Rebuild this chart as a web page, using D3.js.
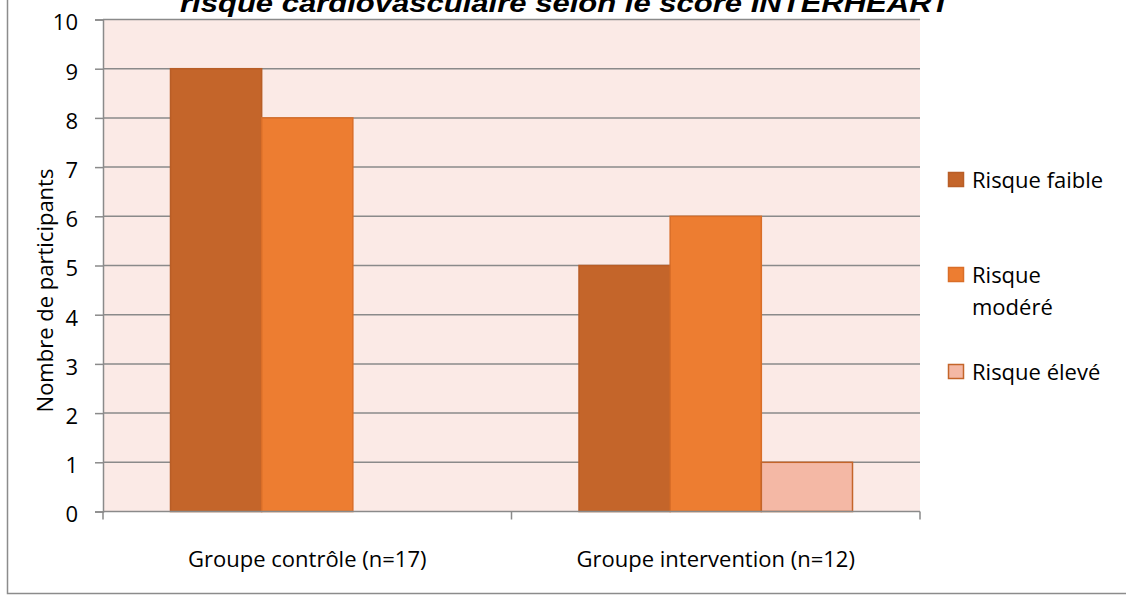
<!DOCTYPE html>
<html><head><meta charset="utf-8">
<script src="https://cdn.jsdelivr.net/npm/d3@7"></script>
<style>body{margin:0;background:#fff}svg{display:block}</style>
</head><body>
<svg id="c" width="1126" height="595"></svg>
<script>
const categories = ["Groupe contrôle (n=17)", "Groupe intervention (n=12)"];
const seriesNames = ["Risque faible", "Risque modéré", "Risque élevé"];
const risqueFaible = [9, 5];
const risqueModere = [8, 6];
const risqueEleve = [0, 1];
const yTicks = [0,1,2,3,4,5,6,7,8,9,10];
const titleText = "risque cardiovasculaire selon le score INTERHEART";
const yTitle = "Nombre de participants";

const seriesValues = [risqueFaible, risqueModere, risqueEleve];
const fills = ["#C4652A", "#ED7D31", "#F4B8A5"];
const strokes = ["#B85E27", "#D96E28", "#C4652A"];
const font = "'Open Sans', 'Noto Sans', sans-serif";
const fs = 22;

const svg = d3.select("#c");
const L = 103, R = 920, T = 19.5, B = 511.5;

// outer border
svg.append("rect").attr("x", 7.5).attr("y", -5).attr("width", 1125).attr("height", 598.5)
  .attr("fill", "none").attr("stroke", "#8c8c8c").attr("stroke-width", 1.5);

svg.append("rect").attr("x", L).attr("y", T).attr("width", R - L).attr("height", B - T).attr("fill", "#FBEAE6");

const y = d3.scaleLinear().domain([0, 10]).range([B, T]);
const x0 = d3.scaleBand().domain(categories).range([L, R]);
const gap = 67.5;
const x1 = d3.scaleBand().domain(seriesNames).range([gap, x0.bandwidth() - gap]);

// gridlines
svg.append("g").selectAll("line").data(yTicks.filter(d => d > 0)).join("line")
  .attr("x1", L).attr("x2", R).attr("y1", d => y(d)).attr("y2", d => y(d))
  .attr("stroke", "#8a8a8a").attr("stroke-width", 1.5);

// bars
const data = [];
categories.forEach((c, i) => seriesNames.forEach((s, j) => data.push({c, s, j, v: seriesValues[j][i]})));
svg.append("g").selectAll("rect").data(data.filter(d => d.v > 0)).join("rect")
  .attr("x", d => x0(d.c) + x1(d.s))
  .attr("y", d => y(d.v))
  .attr("width", x1.bandwidth())
  .attr("height", d => y(0) - y(d.v))
  .attr("fill", d => fills[d.j])
  .attr("stroke", d => strokes[d.j]).attr("stroke-width", 1.5);

// y axis
const ya = svg.append("g").attr("transform", `translate(${L},0)`)
  .call(d3.axisLeft(y).tickValues(yTicks).tickSize(8).tickPadding(17).tickFormat(d3.format("d")));
ya.select(".domain").attr("stroke", "#8a8a8a").attr("stroke-width", 1.5);
ya.selectAll(".tick line").attr("stroke", "#8a8a8a").attr("stroke-width", 1.5);
ya.selectAll(".tick text").attr("font-family", font).attr("font-size", fs).attr("fill", "#000").attr("dy", "0.47em");

// x axis
const xa = svg.append("g").attr("transform", `translate(0,${B})`);
xa.append("line").attr("x1", L).attr("x2", R).attr("stroke", "#8a8a8a").attr("stroke-width", 1.5);
const bounds = [L, ...categories.map(c => x0(c) + x0.bandwidth())];
xa.selectAll("line.t").data(bounds).join("line").attr("class", "t")
  .attr("x1", d => d).attr("x2", d => d).attr("y1", 0).attr("y2", 8)
  .attr("stroke", "#8a8a8a").attr("stroke-width", 1.5);
xa.selectAll("text").data(categories).join("text")
  .attr("x", d => x0(d) + x0.bandwidth() / 2).attr("y", 55)
  .attr("text-anchor", "middle").attr("font-family", font).attr("font-size", fs).attr("fill", "#000")
  .text(d => d);

// y title
svg.append("text").attr("transform", `translate(53,${(T + B) / 2 + 25}) rotate(-90)`)
  .attr("text-anchor", "middle").attr("font-family", font).attr("font-size", fs).text(yTitle);

// title
svg.append("text").attr("x", 565).attr("y", 12).attr("text-anchor", "middle")
  .attr("font-family", "'Liberation Sans', Arial, sans-serif").attr("font-weight", "bold").attr("font-style", "italic")
  .attr("font-size", 25).attr("textLength", 770).attr("lengthAdjust", "spacingAndGlyphs").text(titleText);

// legend
const legBase = [188, 283, 380];
const leg = svg.append("g");
seriesNames.forEach((s, j) => {
  leg.append("rect").attr("x", 948.5).attr("y", legBase[j] - 15.5).attr("width", 15).attr("height", 14)
    .attr("fill", fills[j]).attr("stroke", strokes[j]).attr("stroke-width", 1.5);
  const t = leg.append("text").attr("x", 972).attr("y", legBase[j]).attr("font-family", font).attr("font-size", fs);
  if (j === 1) {
    t.append("tspan").attr("x", 972).text("Risque");
    t.append("tspan").attr("x", 972).attr("dy", 32).text("modéré");
  } else t.text(s);
});
</script>
</body></html>
